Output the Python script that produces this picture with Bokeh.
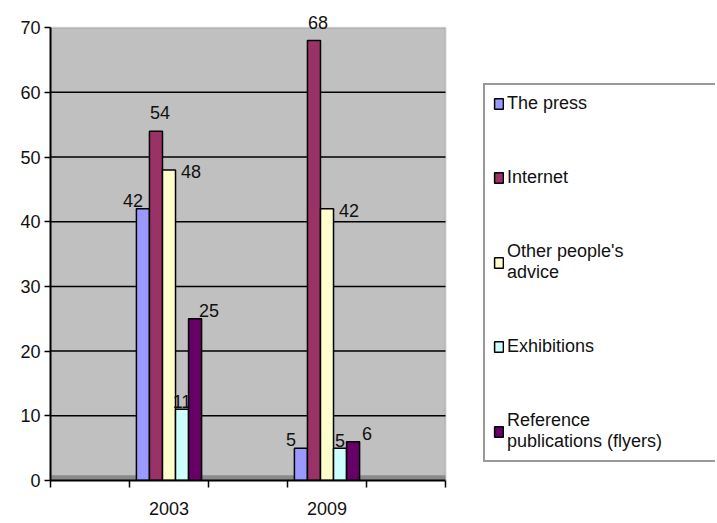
from bokeh.plotting import figure
from bokeh.models import Range1d, FixedTicker, Legend, LegendItem, BoxAnnotation, ColumnDataSource
from bokeh.core.properties import value
from bokeh.embed import file_html
from bokeh.resources import INLINE

# ---- data ----
years = ["2003", "2009"]
series_names = ["The press", "Internet", "Other people's\nadvice", "Exhibitions",
                "Reference\npublications (flyers)"]
press = [42, 5]
internet = [54, 68]
advice = [48, 42]
exhibitions = [11, 5]
reference = [25, 6]
y_ticks = [0, 10, 20, 30, 40, 50, 60, 70]

# ---- styling ----
colors = ["#9999ff", "#993366", "#ffffcc", "#ccffff", "#660066"]
label_dx = [-10, 4, 22, 0, 14]
label_dy = [-2, -12, 8, -1, -2]
cat_pos = [1.5, 3.5]
n_slots = 5
bar_w = 0.165
FONT = "Liberation Sans"
Y_TOP = 72.5
PX_PER_UNIT = 79.0
FRAME_W = 665

all_values = [press, internet, advice, exhibitions, reference]

p = figure(width=717, height=523, output_backend="svg", toolbar_location=None,
           x_range=Range1d(0, FRAME_W / PX_PER_UNIT), y_range=Range1d(0, Y_TOP),
           min_border_left=50, min_border_right=717 - 50 - FRAME_W,
           min_border_top=11, min_border_bottom=43)
p.background_fill_color = "white"
p.border_fill_color = "white"
p.outline_line_color = None

# plot wall (gray area up to 70)
p.add_layout(BoxAnnotation(bottom=0, top=y_ticks[-1], left=0, right=n_slots, fill_color="#c0c0c0",
                           fill_alpha=1.0, line_color="#808080", line_width=2, level="image"))
# floor band
p.add_layout(BoxAnnotation(bottom=0, top=0.8, left=0, right=n_slots, fill_color="#8a8a8a",
                           fill_alpha=1.0, line_color=None, level="underlay"))

# horizontal grid lines over the wall only
grid_y = y_ticks[1:-1]
p.segment(x0=[0] * len(grid_y), x1=[n_slots] * len(grid_y), y0=grid_y, y1=grid_y,
          line_color="black", line_width=1.5)

items = []
for i, vals in enumerate(all_values):
    xs = [c + (i - 2) * bar_w for c in cat_pos]
    src = ColumnDataSource(dict(x=xs, top=vals, lab=[str(v) for v in vals]))
    r = p.vbar(x="x", top="top", width=bar_w, bottom=0, source=src,
               fill_color=colors[i], line_color="black", line_width=1.5)
    p.text(x="x", y="top", text="lab", source=src, x_offset=label_dx[i], y_offset=label_dy[i],
           text_font=value(FONT), text_font_size="18px", text_color="#111111",
           text_align="center", text_baseline="bottom")
    items.append(LegendItem(label=series_names[i], renderers=[r]))

# axes
p.yaxis.ticker = FixedTicker(ticks=y_ticks)
p.yaxis.bounds = (0, y_ticks[-1])
p.yaxis.minor_tick_line_color = None
p.yaxis.major_tick_out = 6
p.yaxis.major_tick_in = 0
p.yaxis.axis_line_width = 2
p.yaxis.axis_line_color = "black"
p.yaxis.major_tick_line_width = 1.5
p.yaxis.major_label_text_font = FONT
p.yaxis.major_label_text_font_size = "18px"
p.yaxis.major_label_text_color = "#111111"
p.yaxis.major_label_standoff = 4

p.xaxis.ticker = FixedTicker(ticks=cat_pos, minor_ticks=list(range(n_slots + 1)))
p.xaxis.bounds = (0, n_slots)
p.xaxis.major_label_overrides = {cat_pos[0]: years[0], cat_pos[1]: years[1]}
p.xaxis.major_tick_line_color = None
p.xaxis.minor_tick_out = 7
p.xaxis.minor_tick_in = 0
p.xaxis.minor_tick_line_color = "black"
p.xaxis.minor_tick_line_width = 1.5
p.xaxis.axis_line_width = 2
p.xaxis.axis_line_color = "black"
p.xaxis.major_label_text_font = FONT
p.xaxis.major_label_text_font_size = "18px"
p.xaxis.major_label_text_color = "#111111"
p.xaxis.major_label_standoff = 14

p.xgrid.grid_line_color = None
p.ygrid.grid_line_color = None

legend = Legend(items=items, location=(433, 18), orientation="vertical",
                label_text_font=FONT, label_text_font_size="18px", label_text_color="#111111",
                glyph_width=11, glyph_height=13, label_standoff=3,
                label_width=200, label_height=20, spacing=53, padding=8,
                border_line_color="#333333", border_line_width=2,
                background_fill_color="white", background_fill_alpha=1.0)
p.add_layout(legend, "center")

open("out.html", "w").write(file_html(p, INLINE))
